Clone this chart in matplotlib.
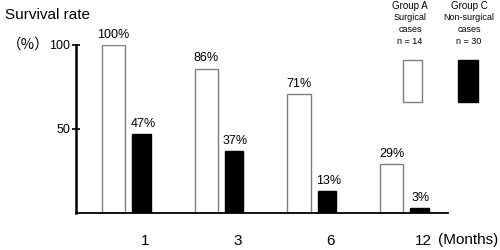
import numpy as np
import matplotlib.pyplot as plt
from matplotlib.patches import Rectangle

plt.rcParams['font.family'] = ['Liberation Sans', 'DejaVu Sans']

# data
months = ['1', '3', '6', '12']
group_a = [100, 86, 71, 29]   # surgical cases, n = 14
group_c = [47, 37, 13, 3]     # non-surgical cases, n = 30

x = np.arange(len(months))

fig = plt.figure(figsize=(5, 2.5), dpi=100)
ax = fig.add_axes([76 / 500, 1 - 213 / 250, 372 / 500, 168 / 250])

bars_a = ax.bar(x - 0.15, group_a, width=0.25, color='white',
                edgecolor='#7f7f7f', linewidth=1)
bars_c = ax.bar(x + 0.15, group_c, width=0.2, color='black',
                edgecolor='black', linewidth=1)

# value labels
for b, v in zip(bars_a, group_a):
    ax.annotate(f'{v}%', (b.get_x() + b.get_width() / 2, v),
                xytext=(0, 3), textcoords='offset points',
                ha='center', va='bottom', fontsize=9, annotation_clip=False)
for b, v in zip(bars_c, group_c):
    ax.annotate(f'{v}%', (b.get_x() + b.get_width() / 2, v),
                xytext=(1, 3), textcoords='offset points',
                ha='center', va='bottom', fontsize=9, annotation_clip=False)

ax.set_xlim(-0.556, 3.457)
ax.set_ylim(0, 100)

for s in ['top', 'right']:
    ax.spines[s].set_visible(False)
ax.spines['left'].set_linewidth(1.8)
ax.spines['bottom'].set_linewidth(1.3)

ax.set_yticks([50, 100])
ax.tick_params(axis='y', direction='inout', length=6, width=1.2,
               labelsize=9, pad=1)
ax.set_xticks(x + 0.19)
ax.set_xticklabels(months)
ax.tick_params(axis='x', length=0, labelsize=11, pad=15)

# titles and unit texts
fig.text(5 / 500, 1 - 15 / 250, 'Survival rate', fontsize=11,
         ha='left', va='center')
fig.text(50 / 500, 1 - 45 / 250, '（%）', fontsize=10.5, ha='right', va='center',
         family=['Noto Sans CJK JP', 'DejaVu Sans'])
fig.text(438 / 500, 1 - 240 / 250, '(Months)', fontsize=11,
         ha='left', va='center')

# legend
for cx, name, desc1, desc2, n in [(410, 'Group A', 'Surgical', 'cases', 'n = 14'),
                                  (469, 'Group C', 'Non-surgical', 'cases', 'n = 30')]:
    fig.text(cx / 500, 1 - 6 / 250, name, fontsize=7, ha='center', va='center')
    fig.text(cx / 500, 1 - 18 / 250, desc1, fontsize=6.5, ha='center', va='center')
    fig.text(cx / 500, 1 - 30 / 250, desc2, fontsize=6.5, ha='center', va='center')
    fig.text(cx / 500, 1 - 42 / 250, n, fontsize=6.5, ha='center', va='center')

fig.add_artist(Rectangle((403 / 500, 1 - 102 / 250), 19 / 500, 42 / 250,
                         transform=fig.transFigure, facecolor='white',
                         edgecolor='#7f7f7f', linewidth=1))
fig.add_artist(Rectangle((458 / 500, 1 - 102 / 250), 20 / 500, 42 / 250,
                         transform=fig.transFigure, facecolor='black',
                         edgecolor='black', linewidth=1))

fig.savefig('out.png', dpi=100)
